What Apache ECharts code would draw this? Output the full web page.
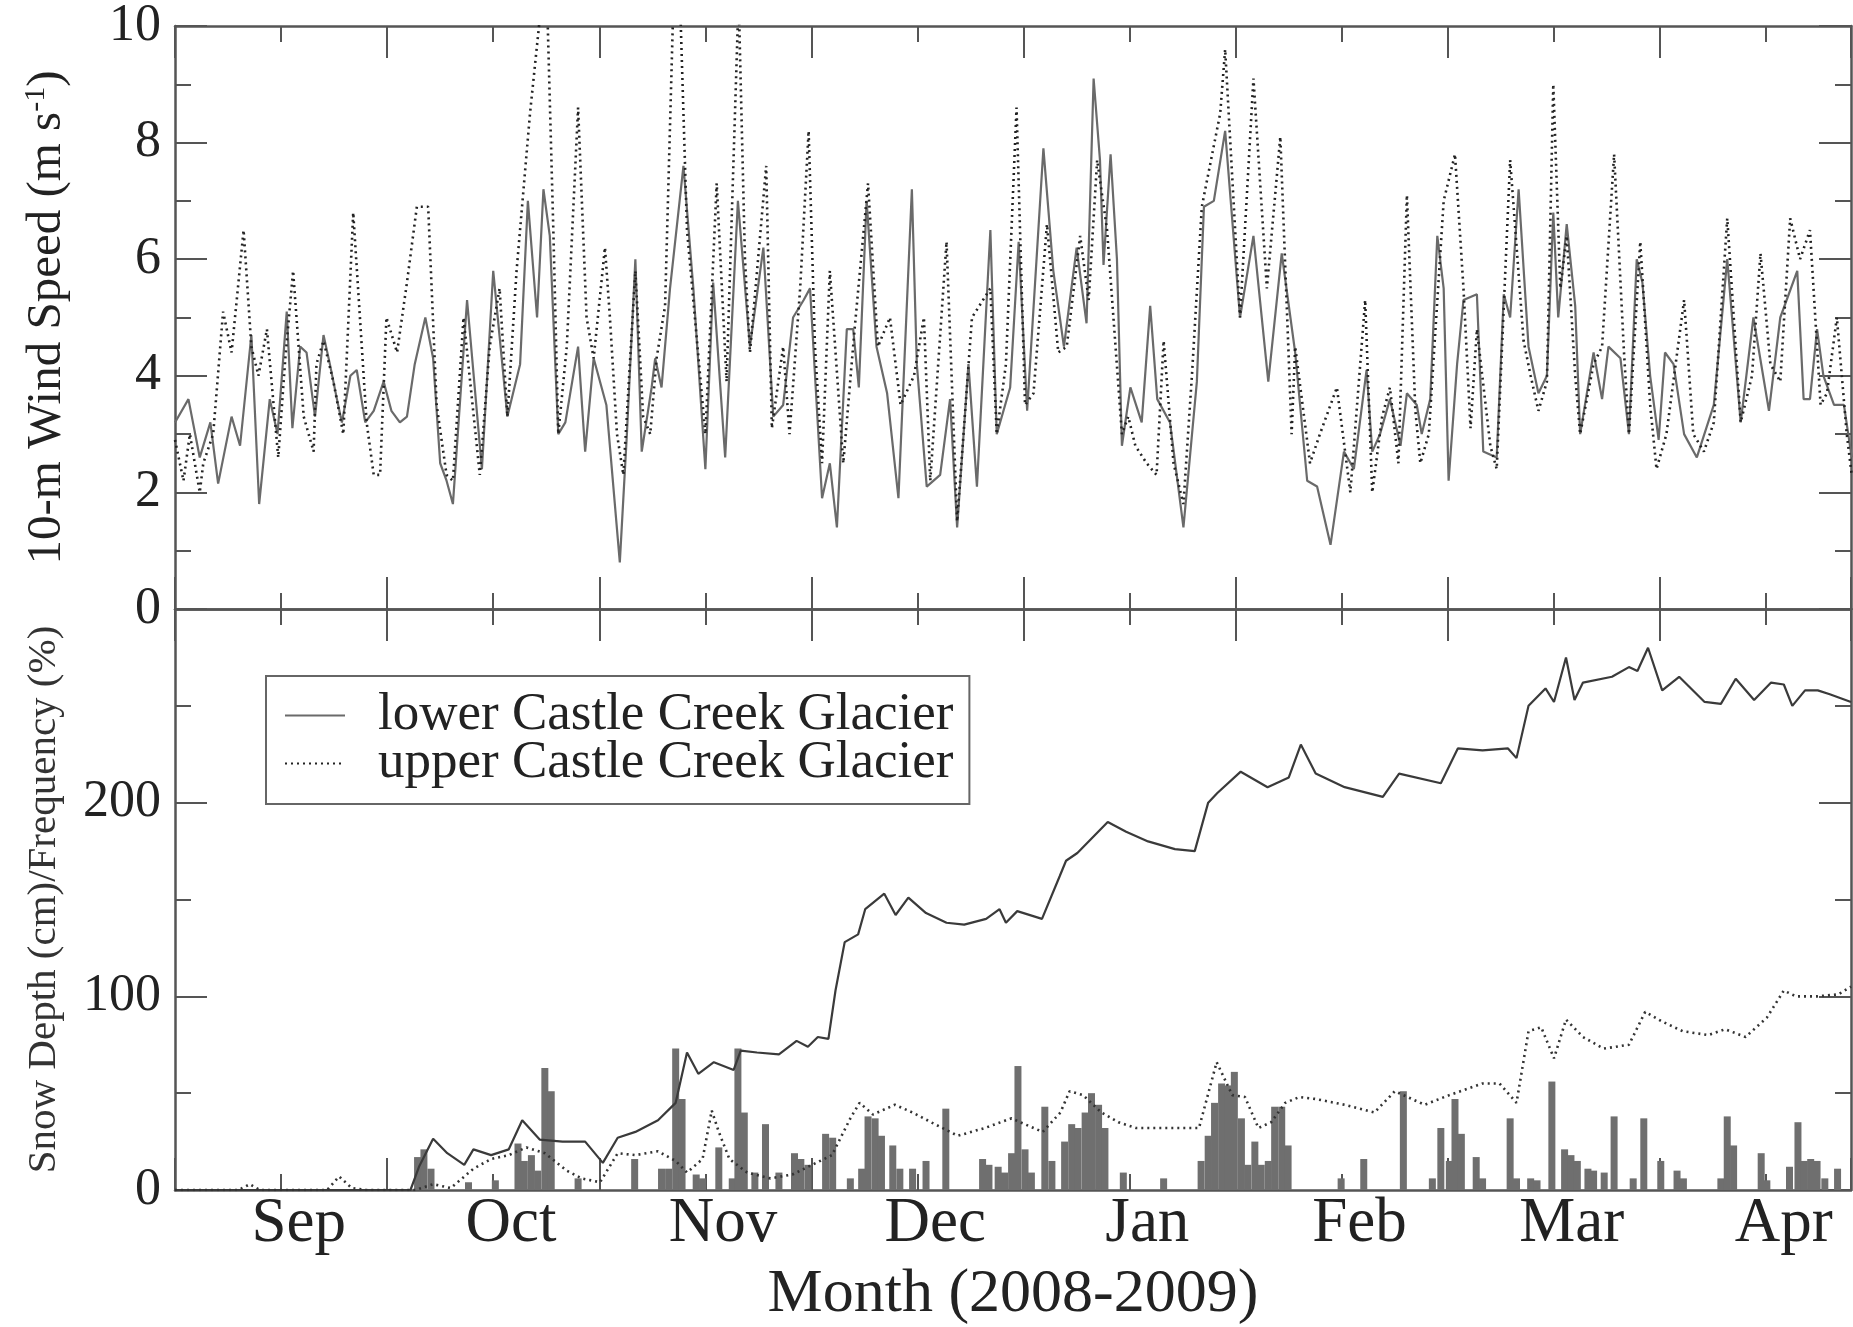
<!DOCTYPE html>
<html><head><meta charset="utf-8">
<script src="https://cdn.jsdelivr.net/npm/echarts@6/dist/echarts.min.js"></script>
<style>html,body{margin:0;padding:0;background:#fff}#c{width:1853px;height:1327px}</style>
</head><body><div id="c"></div>
<script>
// x is days from the left edge of the plot (start of record, late Aug 2008)
const monthNames = ['Sep','Oct','Nov','Dec','Jan','Feb','Mar','Apr'];
const monthPos = [17.5,47.5,77.5,107.5,137.5,167.5,197.5,227.5];
const windTicks = [0,2,4,6,8,10];
const snowTicks = [0,100,200];

const windLower = [[0,3.2],[1.9,3.6],[3.5,2.6],[5,3.2],[6.1,2.15],[8,3.3],[9.2,2.8],[10.8,4.7],[11.9,1.8],[13.4,3.6],[14.5,3.0],[15.8,5.1],[16.6,3.1],[17.7,4.5],[18.6,4.4],[19.8,3.3],[21,4.7],[21.9,4.2],[22.9,3.6],[23.6,3.2],[24.8,4.0],[25.7,4.1],[26.9,3.2],[28.1,3.4],[29.5,3.9],[30.6,3.4],[31.8,3.2],[32.8,3.3],[33.9,4.2],[35.4,5.0],[36.5,4.3],[37.5,2.5],[38.4,2.2],[39.3,1.8],[41.3,5.3],[43.4,2.4],[45,5.8],[47,3.3],[48.8,4.2],[49.9,7.0],[51.2,5.0],[52.1,7.2],[53,6.4],[54.2,3.0],[55.2,3.2],[57,4.5],[58,2.7],[59.2,4.3],[61,3.5],[62.9,0.8],[63.9,3.0],[65.1,6.0],[66,2.7],[67.4,3.8],[67.9,4.3],[68.8,3.8],[70,5.5],[71.9,7.6],[73.3,5.5],[75,2.4],[76.1,5.6],[77.8,2.6],[79.6,7.0],[81.3,4.5],[83.2,6.2],[84.6,3.3],[86,3.5],[87.4,5.0],[88.9,5.3],[89.8,5.5],[91.5,1.9],[92.6,2.5],[93.6,1.4],[95,4.8],[95.9,4.8],[96.7,3.8],[97.8,7.0],[99.2,4.5],[100.7,3.7],[102.3,1.9],[104.2,7.2],[104.9,4.2],[106.3,2.1],[108.2,2.3],[109.6,3.6],[110.6,1.4],[112.2,4.2],[113.4,2.1],[115.3,6.5],[116.2,3.0],[118.1,3.8],[119.3,6.3],[120.5,3.4],[122.8,7.9],[124.2,5.8],[125.7,4.5],[127.5,6.2],[128.9,4.9],[129.9,9.1],[130.8,7.7],[131.3,5.9],[132.3,7.8],[133.2,6.0],[133.9,2.8],[135.1,3.8],[136.7,3.2],[137.9,5.2],[138.9,3.6],[140.7,3.2],[142.6,1.4],[144.5,3.9],[145.5,6.9],[146.9,7.0],[148.5,8.2],[150.6,5.0],[152.5,6.4],[154.6,3.9],[156.5,6.1],[158.4,4.4],[160.1,2.2],[161.5,2.1],[163.4,1.1],[165.3,2.7],[166.7,2.4],[168.5,4.1],[169.3,2.7],[170.4,3.0],[171.8,3.6],[173.3,2.8],[174.2,3.7],[175.6,3.5],[176.3,3.0],[177.5,3.6],[178.5,6.4],[179.4,5.5],[180.1,2.2],[181.3,4.2],[182.2,5.3],[184.1,5.4],[185,2.7],[186.9,2.6],[187.9,5.4],[188.8,5.0],[190,7.2],[191.4,4.5],[192.8,3.7],[194,4.0],[194.9,6.8],[195.6,5.0],[196.8,6.6],[198,5.2],[198.7,3.0],[200.6,4.4],[201.8,3.6],[202.7,4.5],[204.4,4.3],[205.6,3.0],[206.7,6.0],[207.5,5.6],[208.6,4.0],[209.8,2.9],[210.7,4.4],[211.9,4.2],[213.4,3.0],[215.2,2.6],[217.6,3.5],[219.5,6.0],[221.4,3.2],[223.2,5.0],[225.4,3.4],[227,5.0],[229.4,5.8],[230.3,3.6],[231.2,3.6],[232.2,4.8],[233.1,4.0],[234.6,3.5],[236,3.5],[237.1,2.6]];

const windUpper = [[0,2.9],[1.2,2.2],[2.1,3.0],[3.5,2.0],[4,2.5],[5.4,3.0],[6.8,5.1],[8,4.4],[9.7,6.5],[10.8,4.5],[11.8,4.0],[13,4.8],[14.6,2.6],[15.6,4.3],[16.7,5.8],[18.2,3.3],[19.6,2.7],[20,4.2],[21,4.6],[22.4,3.9],[23.8,3.0],[25.2,6.8],[27.1,3.2],[28.1,2.3],[29,2.3],[29.9,5.0],[31.4,4.4],[32.8,5.6],[34.2,6.9],[35.8,6.9],[37,3.5],[38.4,2.3],[39.3,2.2],[40.8,5.0],[43.1,2.3],[44.5,4.5],[45.9,5.5],[47,3.3],[48.3,5.8],[50.2,8.5],[51.9,10.5],[52.6,10.5],[53.5,6.5],[54.2,3.0],[55.4,4.5],[57,8.6],[58.2,5.0],[59.2,4.3],[60.8,6.2],[61.5,5.0],[62.5,3.0],[63.4,2.3],[65.1,5.8],[66.2,3.3],[67.2,3.0],[68.1,4.3],[69.3,5.2],[70.5,10.5],[71.4,10.5],[72.4,6.5],[75,3.0],[76.6,7.3],[78,3.9],[79.7,10.5],[80.6,6.0],[81.3,4.4],[83.6,7.6],[84.4,3.1],[86,4.5],[86.9,3.0],[88.4,5.5],[89.6,8.2],[90.5,4.5],[91.5,2.5],[92.6,5.8],[94.5,2.5],[96.1,4.8],[98,7.3],[99.4,4.5],[101.1,5.0],[102.6,3.5],[104.5,4.0],[105.9,5.0],[106.8,2.2],[109.1,6.3],[110.6,1.5],[111.5,3.0],[112.7,5.0],[115.3,5.5],[116.2,3.0],[117.5,4.2],[119,8.6],[120.2,3.5],[121.4,3.7],[123.3,6.6],[124.9,4.4],[126.1,4.5],[128,6.4],[129.2,5.3],[130.4,7.7],[131.8,6.5],[133.9,3.0],[134.8,3.3],[135.8,2.8],[137.4,2.5],[138.8,2.3],[139.8,4.6],[141.2,2.5],[142.6,1.8],[143.8,4.0],[145.2,6.9],[147.8,8.5],[148.5,9.6],[150.6,5.0],[152.5,9.1],[154.4,5.5],[156.3,8.1],[157.9,3.0],[158.4,4.5],[160.5,2.5],[161.9,3.0],[164.3,3.8],[166.2,2.0],[168.3,5.3],[169.3,2.0],[170.7,3.3],[171.8,3.8],[173,2.5],[174.2,7.1],[175.4,3.4],[176.1,2.5],[177.3,3.0],[179.4,7.0],[181,7.8],[182.2,5.5],[183.2,3.1],[184.1,4.8],[186,2.8],[186.9,2.4],[188.8,7.7],[190.7,4.6],[191.7,4.0],[192.8,3.4],[194,3.9],[194.9,9.0],[195.9,5.5],[196.8,6.4],[198,4.0],[198.7,3.0],[200.6,4.2],[201.8,4.5],[203.5,7.8],[204.9,4.4],[205.6,3.0],[207.2,6.3],[208.6,3.5],[209.5,2.4],[210.9,3.0],[213.4,5.3],[214.7,3.0],[216.2,2.7],[217.6,3.2],[219.5,6.7],[221.4,3.2],[223,4.0],[224.2,6.1],[225.6,4.2],[227,3.9],[228.4,6.7],[229.8,6.0],[231.2,6.5],[232.7,3.5],[233.6,3.7],[235,5.0],[236.4,3.0],[237.1,2.3]];

const snowLower = [[0,0],[33.3,0],[34.5,12],[36.5,26.5],[38.5,19],[40.9,13],[42.2,21],[44.7,18],[47.2,21],[49.1,36],[51.6,26],[54.8,25],[58,25],[60.5,14],[62.6,27],[65.1,30],[68.3,36],[70.8,45],[72.4,71],[74,60],[76.2,66],[79,62],[80,72],[82.3,71],[85.4,70],[87.9,77],[89.5,74],[90.9,79],[92.4,78],[93.4,103],[94.7,128],[96.6,132],[97.6,145],[100.3,153],[101.9,142],[103.7,151],[106.2,143],[109.1,138],[111.6,137],[114.7,140],[116.6,145],[117.5,138],[119.1,144],[122.6,140],[125.1,162],[126,170],[127.6,174],[131.9,190],[134.5,185],[137.6,180],[141.4,176],[144.2,175],[146.1,200],[147.4,205],[150.7,216],[154.5,208],[157.5,213],[159.2,230],[161.3,215],[165.4,208],[170.8,203],[173.1,215],[179,210],[181.4,228],[184.9,227],[188.5,228],[189.7,223],[191.4,250],[193.8,259],[195,252],[196.7,275],[197.9,253],[199.1,262],[203.2,265],[205.6,270],[206.8,268],[208.3,280],[210.3,258],[212.7,265],[216.3,252],[218.6,251],[220.7,264],[223.3,253],[225.7,262],[227.5,261],[228.7,250],[230.5,258],[232.3,258],[234,256],[237,252]];

const snowUpper = [[0,0],[9,0],[10.6,3],[12,0],[21.5,0],[23.2,7],[25,1],[27,0],[34,0],[36.5,3],[39,1],[42.2,11],[44.7,16],[47.2,18],[49.7,22],[52.3,19],[55.4,10],[57.5,6],[60.1,4],[62.6,19],[65.1,18],[68.3,20],[70.8,15],[72.4,9],[74.6,16],[75.9,41],[76.9,30],[78.4,16],[80.9,9],[84.2,6],[87.3,8],[92.9,18],[95.5,37],[96.8,45],[98.7,39],[101.8,44],[104.3,40],[106.9,35],[110.7,28],[114.5,32],[118.3,37],[119.5,35],[122.7,30],[125.2,40],[126.5,51],[128.4,49],[131,40],[133.4,35],[135.9,32],[144.8,32],[147.3,66],[149.5,49],[151.3,48],[153.2,32],[155,35],[157,45],[159,48],[161.3,47],[165.4,44],[169.6,40],[172.5,51],[176.7,44],[180.2,49],[184.9,55],[187.3,55],[189.7,45],[191.4,82],[193.2,84],[195,68],[196.7,88],[199.1,79],[202,73],[205.6,75],[207.9,92],[210.3,87],[213.2,82],[216.8,80],[219.2,83],[222.1,79],[225.1,89],[227.5,103],[229.2,100],[232.2,100],[235.2,101],[237,105]];

const freqBars = [[34.3,17],[35.2,21],[36.2,11],[41.5,4],[45.3,5],[48.5,24],[49.4,15],[50.4,18],[51.3,10],[52.3,63],[53.2,51],[57,6],[65,16],[68.8,11],[69.8,11],[70.8,73],[71.7,47],[73.7,8],[74.6,6],[76.9,22],[78.8,6],[79.6,73],[80.5,40],[82,9],[83.5,34],[85.4,9],[87.6,19],[88.5,16],[89.5,13],[92,29],[93,27],[95.5,6],[97.1,11],[98,38],[99,37],[99.9,28],[101.5,23],[102.5,11],[104.3,11],[106.2,15],[109,42],[114.2,16],[115.1,13],[116.4,12],[117.3,9],[118.3,19],[119.2,64],[120.2,21],[121.1,9],[123,43],[124,15],[125.8,25],[126.8,34],[127.7,32],[128.7,40],[129.6,50],[130.6,44],[131.5,32],[134.1,9],[139.8,6],[145.1,15],[146.1,28],[147,45],[148,55],[148.9,54],[149.8,61],[150.8,37],[151.7,13],[152.7,25],[153.6,13],[154.6,15],[155.5,43],[156.5,43],[157.4,23],[164.9,6],[168.1,16],[173.7,51],[177.8,6],[179,32],[180.2,15],[181,47],[181.9,29],[184,17],[184.9,6],[188.8,37],[189.7,6],[191.7,6],[192.6,5],[194.7,56],[196.5,21],[197.4,18],[198.3,15],[199.8,11],[200.6,10],[202.1,9],[203.5,38],[206.2,6],[207.7,37],[210.1,15],[212.4,10],[213.3,6],[218.6,6],[219.5,38],[220.4,23],[224.3,19],[225.1,5],[228.3,12],[229.5,35],[230.4,15],[231.3,16],[232.2,15],[233.3,6],[235.1,11]];

const FONT = '"Liberation Serif", "Times New Roman", serif';
const AX = '#555';
const TXT = '#222';
const XMAX = 237;

function xAxisDef(grid, pos, labels) {
  const a = {
    type: 'value', gridIndex: grid, position: pos, min: 0, max: XMAX, interval: 30,
    axisLine: { show: true, onZero: false, lineStyle: { color: AX, width: 2.5 } },
    axisTick: { show: true, inside: true, length: 32, lineStyle: { color: AX, width: 2 } },
    minorTick: { show: true, splitNumber: 2, length: 16, lineStyle: { color: AX, width: 2 } },
    splitLine: { show: false }, minorSplitLine: { show: false },
    axisLabel: { show: false }
  };
  if (labels) {
    a.axisLabel = {
      show: true, customValues: monthPos,
      formatter: v => { const i = monthPos.indexOf(v); return i >= 0 ? monthNames[i] : ''; },
      fontFamily: FONT, fontSize: 63, color: TXT, margin: 3
    };
    a.name = 'Month (2008-2009)';
    a.nameLocation = 'middle';
    a.nameGap = 74;
    a.nameTextStyle = { fontFamily: FONT, fontSize: 62, color: TXT };
  }
  return a;
}
function yAxisDef(grid, pos, max, interval, labels, ticks) {
  const a = {
    type: 'value', gridIndex: grid, position: pos, min: 0, max: max, interval: interval,
    axisLine: { show: true, onZero: false, lineStyle: { color: AX, width: 2.5 } },
    axisTick: { show: true, inside: true, length: 32, lineStyle: { color: AX, width: 2 } },
    minorTick: { show: true, splitNumber: 2, length: 16, lineStyle: { color: AX, width: 2 } },
    splitLine: { show: false }, minorSplitLine: { show: false },
    axisLabel: { show: false }
  };
  if (labels) {
    a.axisLabel = {
      show: true, fontFamily: FONT, fontSize: 52, color: TXT, margin: 14,
      formatter: v => ticks.indexOf(v) >= 0 ? String(v) : ''
    };
  }
  return a;
}

const yTop = yAxisDef(0, 'left', 10, 2, true, windTicks);
yTop.name = '10-m Wind Speed (m s{sup|-1})';
yTop.nameLocation = 'middle';
yTop.nameRotate = 90;
yTop.nameGap = 102;
yTop.nameTextStyle = { fontFamily: FONT, fontSize: 49, color: TXT,
  rich: { sup: { fontFamily: FONT, fontSize: 30, color: TXT, verticalAlign: 'top', padding: [0, 0, 22, 0] } } };

const yBot = yAxisDef(1, 'left', 300, 100, true, snowTicks);
yBot.name = 'Snow Depth (cm)/Frequency (%)';
yBot.nameLocation = 'middle';
yBot.nameRotate = 90;
yBot.nameGap = 110;
yBot.nameTextStyle = { fontFamily: FONT, fontSize: 41, color: '#333' };

const option = {
  backgroundColor: '#fff',
  animation: false,
  textStyle: { fontFamily: FONT },
  grid: [
    { left: 175, right: 2, top: 19, height: 590 },
    { left: 175, right: 2, top: 609, height: 585 }
  ],
  xAxis: [
    xAxisDef(0, 'bottom', false),
    xAxisDef(0, 'top', false),
    xAxisDef(1, 'bottom', true),
    xAxisDef(1, 'top', false)
  ],
  yAxis: [
    yTop,
    yAxisDef(0, 'right', 10, 2, false),
    yBot,
    yAxisDef(1, 'right', 300, 100, false)
  ],
  legend: {
    data: ['lower Castle Creek Glacier', 'upper Castle Creek Glacier'],
    orient: 'vertical', left: 266, top: 676,
    itemWidth: 60, itemHeight: 20, itemGap: -5,
    padding: [13, 16, 14, 18],
    borderColor: '#666', borderWidth: 2,
    selectedMode: false,
    itemStyle: { color: 'rgba(0,0,0,0)', borderWidth: 0, opacity: 0 },
    textStyle: { fontFamily: FONT, fontSize: 53, color: TXT, padding: [0, 0, 0, 28] }
  },
  series: [
    { name: 'lower Castle Creek Glacier', type: 'line', xAxisIndex: 0, yAxisIndex: 0, data: windLower,
      symbol: 'none', lineStyle: { color: '#6a6a6a', width: 2.2 }, itemStyle: { color: '#6a6a6a' }, z: 3 },
    { name: 'upper Castle Creek Glacier', type: 'line', xAxisIndex: 0, yAxisIndex: 0, data: windUpper,
      symbol: 'none', lineStyle: { color: '#222', width: 2.6, type: [2, 4] }, itemStyle: { color: '#222' }, z: 4 },
    { name: 'frequency', type: 'bar', xAxisIndex: 2, yAxisIndex: 2, data: freqBars,
      barWidth: 7, itemStyle: { color: '#6f6f6f' }, z: 1 },
    { name: 'lower Castle Creek Glacier', type: 'line', xAxisIndex: 2, yAxisIndex: 2, data: snowLower,
      symbol: 'none', lineStyle: { color: '#3a3a3a', width: 2.2 }, itemStyle: { color: '#3a3a3a' }, z: 3 },
    { name: 'upper Castle Creek Glacier', type: 'line', xAxisIndex: 2, yAxisIndex: 2, data: snowUpper,
      symbol: 'none', lineStyle: { color: '#333', width: 2.6, type: [2, 4] }, itemStyle: { color: '#333' }, z: 4 }
  ]
};
const chart = echarts.init(document.getElementById('c'));
chart.setOption(option);
</script>
</body></html>
